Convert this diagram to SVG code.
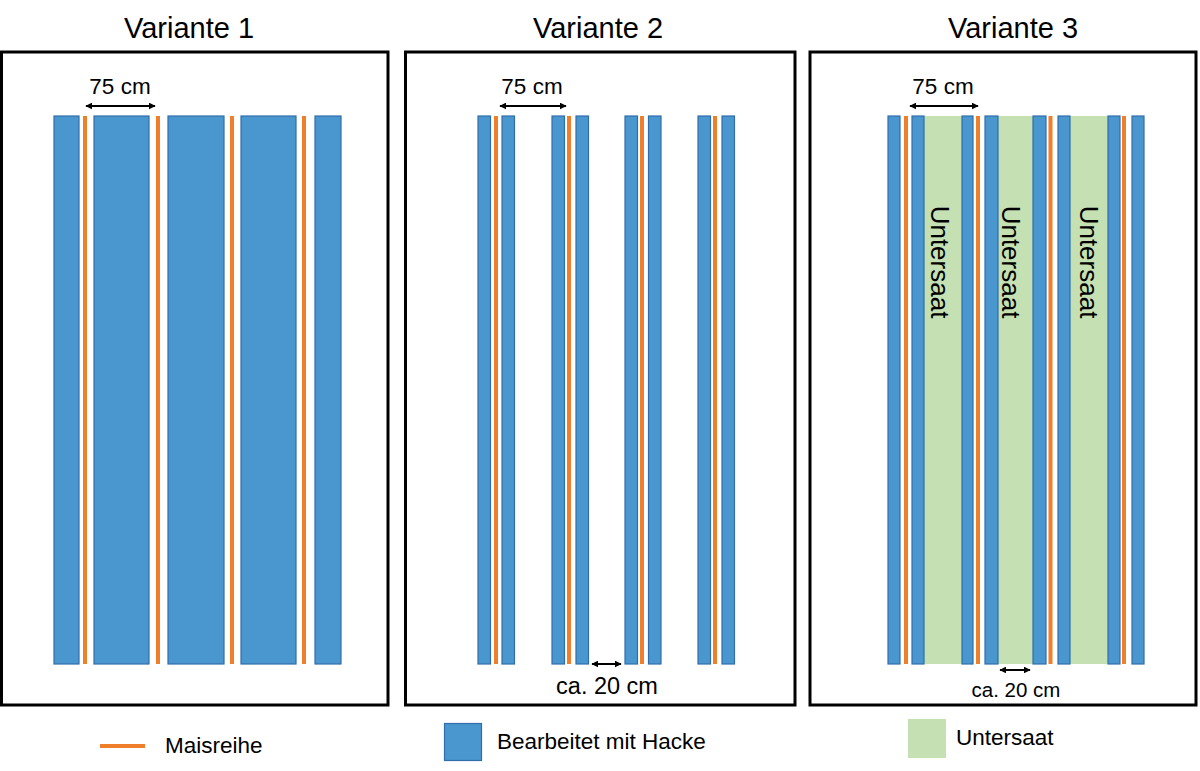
<svg xmlns="http://www.w3.org/2000/svg" width="1200" height="771" viewBox="0 0 1200 771">
<defs>
<marker id="ah" viewBox="0 0 10 10" refX="9" refY="5" markerWidth="7" markerHeight="7" orient="auto-start-reverse" markerUnits="userSpaceOnUse">
<path d="M0,0 L10,5 L0,10 z" fill="#000"/>
</marker>
<style>
.frame{fill:#fff;stroke:#000;stroke-width:3}
.b{fill:#4a96cf;stroke:#2f6eab;stroke-width:1.2}
.o{fill:#f07f2b}
.g{fill:#c5e0b3}
.t{font-family:"Liberation Sans",Arial,sans-serif;fill:#000}
.title{font-size:29px;text-anchor:middle}
.lbl{font-size:22.5px;text-anchor:middle}
.leg{font-size:22.5px}
.arr{stroke:#000;stroke-width:2;fill:none;marker-start:url(#ah);marker-end:url(#ah)}
</style>
</defs>
<rect width="1200" height="771" fill="#fff"/>

<g id="variante1">
<text class="t title" x="189" y="38">Variante 1</text>
<rect class="frame" x="1.5" y="52" width="386.5" height="653"/>
<rect class="b" x="54" y="116" width="25" height="548"/>
<rect class="o" x="83" y="116" width="4" height="548"/>
<rect class="b" x="94" y="116" width="55" height="548"/>
<rect class="o" x="156" y="116" width="4" height="548"/>
<rect class="b" x="168" y="116" width="56" height="548"/>
<rect class="o" x="230" y="116" width="4" height="548"/>
<rect class="b" x="241" y="116" width="55" height="548"/>
<rect class="o" x="302" y="116" width="4" height="548"/>
<rect class="b" x="315" y="116" width="26" height="548"/>
</g>

<g id="variante2">
<text class="t title" x="598" y="38">Variante 2</text>
<rect class="frame" x="405.5" y="52" width="389.5" height="653"/>
<rect class="b" x="478" y="116" width="12.5" height="548"/>
<rect class="o" x="494" y="116" width="4" height="548"/>
<rect class="b" x="502" y="116" width="12.5" height="548"/>
<rect class="b" x="552" y="116" width="12.5" height="548"/>
<rect class="o" x="567" y="116" width="4" height="548"/>
<rect class="b" x="576" y="116" width="12.5" height="548"/>
<rect class="b" x="625" y="116" width="12.5" height="548"/>
<rect class="o" x="640" y="116" width="4" height="548"/>
<rect class="b" x="648.5" y="116" width="12.5" height="548"/>
<rect class="b" x="698" y="116" width="12.5" height="548"/>
<rect class="o" x="713" y="116" width="4" height="548"/>
<rect class="b" x="722" y="116" width="12.5" height="548"/>
</g>

<g id="variante3">
<text class="t title" x="1013" y="38">Variante 3</text>
<rect class="frame" x="810" y="52" width="386" height="653"/>
<rect class="g" x="912" y="116" width="61" height="548"/>
<rect class="g" x="985" y="116" width="61" height="548"/>
<rect class="g" x="1058" y="116" width="62" height="548"/>
<rect class="b" x="888" y="116" width="12" height="548"/>
<rect class="o" x="904" y="116" width="4" height="548"/>
<rect class="b" x="912" y="116" width="12" height="548"/>
<rect class="b" x="962" y="116" width="11" height="548"/>
<rect class="o" x="976" y="116" width="4" height="548"/>
<rect class="b" x="985" y="116" width="13" height="548"/>
<rect class="b" x="1033" y="116" width="13" height="548"/>
<rect class="o" x="1048.5" y="116" width="4" height="548"/>
<rect class="b" x="1058" y="116" width="12" height="548"/>
<rect class="b" x="1108" y="116" width="12" height="548"/>
<rect class="o" x="1122" y="116" width="4" height="548"/>
<rect class="b" x="1132" y="116" width="12" height="548"/>
<text class="t" font-size="26" text-anchor="middle" transform="translate(931,262) rotate(90)">Untersaat</text>
<text class="t" font-size="26" text-anchor="middle" transform="translate(1002,262) rotate(90)">Untersaat</text>
<text class="t" font-size="26" text-anchor="middle" transform="translate(1080,262) rotate(90)">Untersaat</text>
</g>

<g id="connectors">
<line class="arr" x1="86" y1="106" x2="155" y2="106"/>
<line class="arr" x1="500" y1="106" x2="566" y2="106"/>
<line class="arr" x1="910" y1="106" x2="978" y2="106"/>
<line class="arr" x1="592" y1="664" x2="621" y2="664"/>
<line class="arr" x1="1000" y1="670" x2="1030" y2="670"/>
</g>

<g id="labels">
<text class="t lbl" x="120" y="94">75 cm</text>
<text class="t lbl" x="532" y="94">75 cm</text>
<text class="t lbl" x="943" y="94">75 cm</text>
<text class="t" font-size="23.5" text-anchor="middle" x="607" y="694">ca. 20 cm</text>
<text class="t" font-size="20.5" text-anchor="middle" x="1016" y="697">ca. 20 cm</text>
</g>

<g id="legend">
<line x1="100" y1="746" x2="145" y2="746" stroke="#f07f2b" stroke-width="4"/>
<text class="t leg" x="165" y="753">Maisreihe</text>
<rect class="b" x="444.5" y="723.5" width="37" height="37"/>
<text class="t leg" x="497" y="749">Bearbeitet mit Hacke</text>
<rect class="g" x="908" y="719" width="38" height="39"/>
<text class="t leg" x="956" y="745">Untersaat</text>
</g>
</svg>
